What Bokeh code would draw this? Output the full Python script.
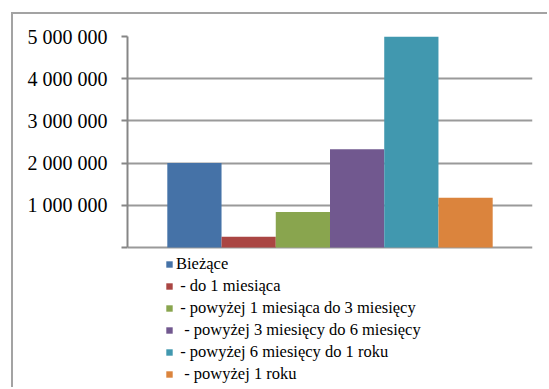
from bokeh.plotting import figure
from bokeh.models import Range1d, FixedTicker, Legend, LegendItem, ColumnDataSource
from bokeh.embed import file_html
from bokeh.resources import INLINE

# ---- data ----
categories = [
    "Bieżące",
    " - do 1 miesiąca",
    " - powyżej 1 miesiąca do 3 miesięcy",
    "  - powyżej 3 miesięcy do 6 miesięcy",
    " - powyżej 6 miesięcy do 1 roku",
    "  - powyżej 1 roku",
]
values = [2000000, 255000, 840000, 2330000, 5010000, 1180000]
colors = ["#4572A7", "#AA4643", "#89A54E", "#71588F", "#4198AF", "#DB843D"]
y_ticks = [0, 1000000, 2000000, 3000000, 4000000, 5000000]
y_tick_labels = ["", "1 000 000", "2 000 000", "3 000 000", "4 000 000", "5 000 000"]

FONT = "'Liberation Serif', 'Times New Roman', serif"
positions = list(range(len(categories)))
y_max = y_ticks[-1]

# layout in pixels (canvas)
W, H = 536, 375
LEFT, RIGHT, TOP = 114, 17, 22
PLOT_H = 211            # pixel height of 0..y_max
BELOW = H - TOP - PLOT_H  # frame continues below zero to host the legend

source = ColumnDataSource(dict(x=positions, top=values, color=colors, label=categories))

p = figure(
    width=W, height=H,
    x_range=Range1d(-1.234, len(categories) - 1 + 1.234),
    y_range=Range1d(-y_max * BELOW / PLOT_H, y_max),
    output_backend="svg", toolbar_location=None,
    min_border_left=LEFT, min_border_right=RIGHT, min_border_top=TOP, min_border_bottom=0,
)
p.styles = {"border-left": "2px solid #a3a3a3", "border-top": "2px solid #a3a3a3",
            "margin-left": "11px", "margin-top": "12px"}
p.outline_line_color = None
p.background_fill_color = "white"
p.border_fill_color = "white"

r = p.vbar(x="x", top="top", bottom=0, width=1.0, color="color", line_color=None, source=source)

p.xaxis.visible = False
p.xgrid.visible = False
p.ygrid.ticker = FixedTicker(ticks=y_ticks)
p.ygrid.grid_line_color = "#9a9a9a"
p.ygrid.grid_line_width = 2

ax = p.yaxis[0]
ax.bounds = (0, y_max)
ax.ticker = FixedTicker(ticks=y_ticks)
ax.major_label_overrides = {t: l for t, l in zip(y_ticks, y_tick_labels)}
ax.axis_line_color = "#868686"
ax.axis_line_width = 2
ax.major_tick_line_color = "#868686"
ax.major_tick_line_width = 2
ax.major_tick_out = 6
ax.major_tick_in = 0
ax.minor_tick_line_color = None
ax.major_label_text_font = FONT
ax.major_label_text_font_size = "20px"
ax.major_label_text_color = "black"
ax.major_label_standoff = 14

items = [LegendItem(label=lab, renderers=[r], index=i) for i, lab in enumerate(categories)]
legend = Legend(items=items, location=(38, 5))
legend.glyph_width = 8
legend.glyph_height = 8
legend.label_height = 20
legend.spacing = 2
legend.padding = 0
legend.margin = 0
legend.label_standoff = 3
legend.label_text_font = FONT
legend.label_text_font_size = "16.5px"
legend.label_text_color = "black"
legend.border_line_color = None
legend.background_fill_alpha = 0
p.add_layout(legend, "center")

open("out.html", "w").write(file_html(p, INLINE))
